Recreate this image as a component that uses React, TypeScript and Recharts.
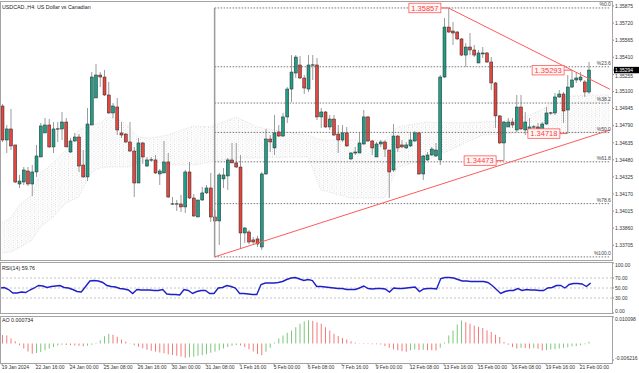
import {
  ComposedChart,
  Bar,
  Line,
  Area,
  XAxis,
  YAxis,
  ReferenceLine,
  ReferenceDot,
  Cell,
} from 'recharts'

const FONT = '"Liberation Sans", Arial, sans-serif'
const BULL = '#1f9d87'
const BEAR = '#e2463f'
const TAG = '#ff5a5a'

// USDCAD H4 bars, 19 Jan 08:00 .. 21 Feb 08:00
const opens = [
  1.34968, 1.3466, 1.3476, 1.34615, 1.34261, 1.34279, 1.34379, 1.34261, 1.3437, 1.34506,
  1.34724, 1.34796, 1.34597, 1.3476, 1.3476, 1.34823, 1.34551, 1.34651, 1.34687, 1.34433,
  1.34325, 1.34796, 1.35041, 1.35249, 1.35231, 1.35068, 1.34905, 1.34959, 1.34724, 1.34714,
  1.34642, 1.3456, 1.3427, 1.34633, 1.34424, 1.34479, 1.34479, 1.34352, 1.34361, 1.34461,
  1.3408, 1.3408, 1.3408, 1.34053, 1.3437, 1.34134, 1.33962, 1.34116, 1.3418, 1.34225,
  1.33962, 1.33926, 1.34307, 1.34334, 1.34479, 1.34452, 1.34415, 1.33817, 1.33826, 1.33754,
  1.33763, 1.3369, 1.34352, 1.34669, 1.34588, 1.34733, 1.34696, 1.34869, 1.35122, 1.35267,
  1.3534, 1.35222, 1.35122, 1.3534, 1.3534, 1.34869, 1.34914, 1.34778, 1.3485, 1.34714,
  1.3466, 1.34724, 1.34488, 1.34542, 1.34542, 1.34624, 1.34869, 1.34651, 1.34506, 1.34624,
  1.34642, 1.34569, 1.34388, 1.34696, 1.34615, 1.34588, 1.34606, 1.34651, 1.34724, 1.34352,
  1.34479, 1.34524, 1.34515, 1.34479, 1.35231, 1.35684, 1.35648, 1.35639, 1.35576, 1.3543,
  1.35503, 1.35476, 1.35358, 1.3544, 1.35449, 1.35367, 1.35177, 1.34878, 1.34633, 1.34778,
  1.34823, 1.34751, 1.34959, 1.34751, 1.34724, 1.34778, 1.34778, 1.34733, 1.34805, 1.34905,
  1.34905, 1.3505, 1.35077, 1.34932, 1.3514, 1.35204, 1.35204, 1.35186, 1.35095,
]
const highs = [
  1.34986, 1.34796, 1.34941, 1.34615, 1.34343, 1.34415, 1.34415, 1.34433, 1.34615, 1.34814,
  1.34859, 1.3485, 1.34823, 1.34823, 1.34914, 1.34859, 1.34678, 1.34724, 1.34714, 1.34569,
  1.3495, 1.35276, 1.35349, 1.35276, 1.35295, 1.35186, 1.34995, 1.35041, 1.34823, 1.34724,
  1.34823, 1.34597, 1.34678, 1.34642, 1.34506, 1.34506, 1.34524, 1.34397, 1.34651, 1.34542,
  1.34143, 1.34116, 1.34162, 1.34388, 1.34461, 1.34171, 1.34116, 1.34234, 1.34252, 1.34361,
  1.34026, 1.34361, 1.34406, 1.34497, 1.34633, 1.34633, 1.34524, 1.33871, 1.33844, 1.33781,
  1.3379, 1.3437, 1.3476, 1.34705, 1.34887, 1.34796, 1.34905, 1.3514, 1.3543, 1.3543,
  1.35421, 1.35249, 1.3543, 1.3543, 1.35403, 1.3495, 1.34923, 1.34887, 1.34887, 1.34796,
  1.34796, 1.34778, 1.34551, 1.34597, 1.34724, 1.34932, 1.34878, 1.3466, 1.34642, 1.3466,
  1.3466, 1.34569, 1.34805, 1.34705, 1.3466, 1.34642, 1.34724, 1.34742, 1.34733, 1.34524,
  1.34551, 1.34597, 1.34633, 1.35249, 1.35766, 1.35857, 1.3573, 1.35648, 1.35585, 1.35539,
  1.3563, 1.35521, 1.35476, 1.35503, 1.35458, 1.35412, 1.35186, 1.34887, 1.34832, 1.34859,
  1.34859, 1.35068, 1.35068, 1.34914, 1.34859, 1.34796, 1.34814, 1.34823, 1.34959, 1.34914,
  1.35086, 1.35113, 1.35095, 1.35249, 1.35293, 1.35276, 1.35276, 1.35204, 1.35367,
]
const lows = [
  1.34642, 1.34542, 1.34569, 1.3427, 1.34225, 1.34252, 1.34243, 1.34152, 1.34325, 1.34506,
  1.34724, 1.34588, 1.34542, 1.34642, 1.3466, 1.34597, 1.34542, 1.34642, 1.3437, 1.34316,
  1.34288, 1.34796, 1.35041, 1.3514, 1.35059, 1.34896, 1.34859, 1.34705, 1.34678, 1.34633,
  1.34551, 1.34143, 1.3427, 1.34443, 1.34415, 1.34461, 1.34352, 1.34252, 1.34361, 1.34134,
  1.34071, 1.34016, 1.34007, 1.33998, 1.34125, 1.33962, 1.33962, 1.34107, 1.34171, 1.33917,
  1.33917, 1.33708, 1.34225, 1.34207, 1.34452, 1.34406, 1.33672, 1.33726, 1.33717, 1.33717,
  1.3369, 1.33663, 1.34343, 1.34551, 1.34524, 1.34687, 1.34687, 1.34814, 1.35004, 1.35222,
  1.35213, 1.35077, 1.35095, 1.35204, 1.34841, 1.34769, 1.34769, 1.34751, 1.34696, 1.34542,
  1.34642, 1.34597, 1.34479, 1.34524, 1.34542, 1.34615, 1.34642, 1.34524, 1.34506, 1.34597,
  1.34506, 1.34134, 1.3437, 1.34551, 1.34588, 1.34578, 1.34597, 1.34642, 1.34343, 1.34297,
  1.3447, 1.34515, 1.34506, 1.34433, 1.35222, 1.3563, 1.35521, 1.35566, 1.35421, 1.35322,
  1.3543, 1.35412, 1.35358, 1.35403, 1.35358, 1.35113, 1.34769, 1.34624, 1.34473, 1.34778,
  1.34769, 1.34733, 1.34751, 1.34705, 1.34687, 1.34742, 1.34733, 1.34725, 1.34796, 1.34887,
  1.34887, 1.35041, 1.34814, 1.34718, 1.35131, 1.35177, 1.35186, 1.3505, 1.35077,
]
const closes = [
  1.3466, 1.3476, 1.34606, 1.34279, 1.34288, 1.34388, 1.34261, 1.3437, 1.34515, 1.34787,
  1.34796, 1.34597, 1.3476, 1.3476, 1.34823, 1.34597, 1.34651, 1.34687, 1.34424, 1.34325,
  1.34805, 1.35231, 1.35249, 1.35231, 1.35068, 1.34905, 1.34968, 1.34751, 1.34705, 1.34642,
  1.3456, 1.3427, 1.34633, 1.34506, 1.34479, 1.34479, 1.34361, 1.34379, 1.34461, 1.34143,
  1.3408, 1.3408, 1.34053, 1.3437, 1.34134, 1.33971, 1.34116, 1.3418, 1.34225, 1.33962,
  1.33926, 1.34343, 1.34343, 1.34479, 1.34452, 1.34415, 1.33817, 1.33862, 1.33735, 1.33735,
  1.33717, 1.34352, 1.34669, 1.34642, 1.34724, 1.34696, 1.34869, 1.35122, 1.35276, 1.35412,
  1.35222, 1.35131, 1.3534, 1.3534, 1.34869, 1.34914, 1.34778, 1.3485, 1.34705, 1.3466,
  1.34724, 1.34606, 1.34542, 1.34551, 1.34633, 1.34869, 1.34651, 1.34588, 1.34624, 1.34642,
  1.34578, 1.3437, 1.34696, 1.34588, 1.34597, 1.34615, 1.3466, 1.34724, 1.34352, 1.34515,
  1.34524, 1.34578, 1.34569, 1.35231, 1.35684, 1.35639, 1.3563, 1.35576, 1.3543, 1.35503,
  1.35476, 1.3543, 1.35449, 1.35449, 1.35367, 1.35177, 1.34878, 1.34633, 1.34823, 1.34823,
  1.34796, 1.34959, 1.3476, 1.34823, 1.34778, 1.34778, 1.3476, 1.34805, 1.34905, 1.34905,
  1.3505, 1.35077, 1.34923, 1.3514, 1.35204, 1.35222, 1.35231, 1.35095, 1.35294,
]

const rsi14 = [
  50, 51, 47, 40, 40, 42, 41, 46, 50, 55,
  54, 51, 53, 54, 55, 51, 50, 47, 43, 42,
  53, 64, 65, 64, 61, 55, 53, 52, 49, 48,
  46, 39, 47, 46, 46, 46, 45, 45, 47, 38,
  37, 37, 36, 47, 45, 39, 43, 45, 45, 39,
  39, 50, 51, 55, 53, 50, 39, 39, 38, 37,
  37, 57, 60, 60, 60, 61, 63, 67, 70, 71,
  68, 65, 67, 65, 53, 53, 52, 51, 50, 49,
  49, 47, 47, 47, 50, 54, 49, 48, 49, 49,
  48, 42, 50, 49, 49, 50, 51, 52, 43, 48,
  49, 49, 48, 69, 71, 71, 70, 67, 64, 64,
  63, 63, 63, 63, 61, 55, 47, 39, 43, 45,
  45, 49, 45, 47, 46, 46, 45, 45, 50, 51,
  55, 55, 50, 57, 59, 59, 58, 53, 59.76,
]

const aoValues = [
  0.0033, 0.0031, 0.0019, 0.0009, -0.0006, -0.0019, -0.003, -0.0038, -0.0036, -0.0032,
  -0.0025, -0.0019, -0.0013, -0.0007, -0.0004, -0.0005, -0.0006, -0.0007, -0.0008, -0.001,
  -0.0008, -0.0004, 0.0003, 0.0013, 0.0028, 0.0037, 0.0034, 0.0026, 0.0016, 0.0008,
  0.0001, -0.0006, -0.0012, -0.0018, -0.0023, -0.0027, -0.003, -0.0034, -0.0037, -0.004,
  -0.0043, -0.0046, -0.0049, -0.0054, -0.0052, -0.005, -0.0046, -0.0044, -0.004, -0.0035,
  -0.003, -0.0025, -0.0019, -0.0013, -0.0008, -0.0005, -0.0007, -0.0013, -0.0021, -0.003,
  -0.0039, -0.0044, -0.0031, -0.0016, 0.0004, 0.0019, 0.0031, 0.0041, 0.005, 0.00625,
  0.0075, 0.0084, 0.0089, 0.0087, 0.0081, 0.0075, 0.00625, 0.005, 0.00375, 0.0029,
  0.0021, 0.0016, 0.0009, 0.0004, 0.0001, -0.0001, -0.00015, -0.0002, -0.00025, -0.0003,
  -0.0009, -0.0016, -0.0021, -0.0025, -0.0029, -0.0031, -0.0025, -0.00225, -0.0024, -0.0023,
  -0.0025, -0.00255, -0.0026, -0.0016, 0.0004, 0.0031, 0.005, 0.00725, 0.00875, 0.0081,
  0.0075, 0.0069, 0.0064, 0.0059, 0.0051, 0.0044, 0.0034, 0.0025, 0.0006, -0.0004,
  -0.00125, -0.0019, -0.0016, -0.0017, -0.0019, -0.0018, -0.00195, -0.0026, -0.0024, -0.00225,
  -0.0021, -0.0019, -0.0016, -0.0014, -0.001, -0.0009, -0.0006, -0.00025, 0.000734,
]

// ichimoku cloud edges, read at a few bars (shifted cloud runs into the empty right margin)
const cloudBars = [0, 2, 4, 7, 9, 12, 15, 18, 21, 23, 25, 28, 30, 32, 35, 39, 45, 49, 55, 60, 68, 72, 75, 82, 90, 93, 100, 107, 113, 121, 127, 131, 138, 143]
const cloudTop = [
  1.33908, 1.33953, 1.34071, 1.34162, 1.34361, 1.34452, 1.34569, 1.34751, 1.34796, 1.34814,
  1.34869, 1.34841, 1.34769, 1.34687, 1.34678, 1.34705, 1.34787, 1.34778, 1.34869, 1.34778,
  1.34724, 1.34705, 1.3466, 1.3466, 1.3466, 1.34778, 1.34823, 1.34814, 1.34823, 1.34841,
  1.34932, 1.3505, 1.35068, 1.35068,
]
const cloudBottom = [
  1.33636, 1.33645, 1.33681, 1.33754, 1.33871, 1.33962, 1.34089, 1.34143, 1.3437, 1.34406,
  1.34415, 1.34415, 1.34415, 1.34461, 1.34479, 1.34433, 1.34433, 1.34461, 1.34497, 1.34497,
  1.34506, 1.34506, 1.34207, 1.34134, 1.34134, 1.34415, 1.34479, 1.34597, 1.34705, 1.34724,
  1.34724, 1.34724, 1.34724, 1.34724,
]

const fibLevels = [1.35857, 1.35324, 1.34995, 1.34729, 1.34462, 1.34083, 1.336]
const fibNames = ['%0.0', '%23.6', '%38.2', '%50.0', '%61.8', '%78.6', '%100.0']
const fibBar = 50

const trendLines = [
  { x1: 50, y1: 1.336, x2: 143, y2: 1.3475 },
  { x1: 105, y1: 1.35857, x2: 143, y2: 1.3512 },
]

const priceTags = [
  { bar: 105, price: 1.35857 },
  { bar: 134, price: 1.35293 },
  { bar: 118, price: 1.34473 },
  { bar: 133, price: 1.34718 },
]

const priceTicks = [
  1.33705, 1.3386, 1.34015, 1.3417, 1.34325, 1.3448, 1.34635, 1.3479,
  1.34945, 1.351, 1.35255, 1.3541, 1.35565, 1.3572, 1.35875,
]
const rsiTicks = [0, 30, 50, 70, 100]
const aoTicks = [-0.006216, 0.010098]
const dateTicks = [0, 8, 16, 24, 32, 40, 48, 56, 64, 72, 80, 88, 96, 104, 112, 120, 128, 136]
const dateLabels = [
  '19 Jan 2024', '22 Jan 16:00', '24 Jan 00:00', '25 Jan 08:00', '26 Jan 16:00', '30 Jan 00:00',
  '31 Jan 08:00', '1 Feb 16:00', '5 Feb 00:00', '6 Feb 08:00', '7 Feb 16:00', '9 Feb 00:00',
  '12 Feb 08:00', '13 Feb 16:00', '15 Feb 00:00', '16 Feb 08:00', '19 Feb 16:00', '21 Feb 00:00',
]

const SLOTS = 144 // bars + chart shift on the right
const lastPrice = closes[closes.length - 1]

const rows = Array.from({ length: SLOTS }, (_, i) => {
  const k = cloudBars.indexOf(i)
  return {
    i,
    o: opens[i] ?? null,
    h: highs[i] ?? null,
    l: lows[i] ?? null,
    c: closes[i] ?? null,
    rsi: rsi14[i] ?? null,
    ao: aoValues[i] ?? null,
    cloud: k >= 0 ? [cloudBottom[k], cloudTop[k]] : null,
  }
})

function Candle(props: any) {
  const { x, y, width, height, payload } = props
  if (!payload || payload.o == null) return null
  const { o, h, l, c } = payload
  const top = height >= 0 ? y : y + height
  const span = Math.abs(height)
  const k = h > l ? span / (h - l) : 0
  const cx = x + width / 2
  const yO = top + (h - o) * k
  const yC = top + (h - c) * k
  return (
    <g>
      <line x1={cx} x2={cx} y1={top} y2={top + span} stroke="#9b9b9b" strokeWidth={1} />
      {o === c ? (
        <line x1={x - 0.3} x2={x + width + 0.3} y1={yO} y2={yO} stroke="#222" strokeWidth={1} />
      ) : (
        <rect
          x={x}
          y={Math.min(yO, yC)}
          width={width}
          height={Math.max(Math.abs(yO - yC), 0.8)}
          fill={c > o ? BULL : BEAR}
          stroke="#2a2a2a"
          strokeWidth={0.5}
        />
      )}
    </g>
  )
}

function PriceTag(props: any) {
  const { cx, cy, text } = props
  const w = 32
  const ht = 9.5
  const right = cx - 7.5
  return (
    <g>
      <line x1={right} x2={cx} y1={cy} y2={cy} stroke={TAG} strokeWidth={1} />
      <rect x={right - w} y={cy - ht / 2} width={w} height={ht} fill="#fff6f6" stroke={TAG} strokeWidth={0.8} />
      <text x={right - w / 2} y={cy + 2.7} textAnchor="middle" fontSize={7.5} fill="#ff3a3a" fontFamily={FONT}>
        {text}
      </text>
    </g>
  )
}

function FibName(props: any) {
  const { cx, cy, text } = props
  return (
    <text x={cx + 1} y={cy - 1.6} textAnchor="end" fontSize={5} fill="#444" fontFamily={FONT}>
      {text}
    </text>
  )
}

function PriceAxisTick(props: any) {
  const { x, y, payload } = props
  const v = payload.value
  if (v === lastPrice) {
    return (
      <g>
        <rect x={x - 1} y={y - 3.2} width={25} height={6.4} fill="#000" />
        <text x={x} y={y + 1.8} fontSize={5} fill="#fff" fontFamily={FONT}>{v.toFixed(5)}</text>
      </g>
    )
  }
  // the label right under the last-price box sits a hair lower, as in the terminal
  const nudge = Math.abs(v - lastPrice) < 0.0006 ? 1.6 : 0
  return (
    <text x={x} y={y + 1.8 + nudge} fontSize={5} fill="#333" fontFamily={FONT}>{v.toFixed(5)}</text>
  )
}

// side labels of the sub-windows: edge labels are pulled inside the panel
function SideTick(props: any) {
  const { x, y, payload, ticks, digits } = props
  const v = payload.value
  const shift = v === ticks[ticks.length - 1] ? 1.8 : v === ticks[0] ? -1.8 : 0
  return (
    <text x={x} y={y + 1.8 + shift} fontSize={5} fill="#333" fontFamily={FONT}>{v.toFixed(digits)}</text>
  )
}

function DateTick(props: any) {
  const { x, y, payload } = props
  const label = dateLabels[dateTicks.indexOf(payload.value)]
  return (
    <g>
      <line x1={x} x2={x} y1={y + 3.5} y2={y + 5.5} stroke="#777" strokeWidth={0.8} />
      <text x={x - 0.5} y={y + 9} fontSize={5} fill="#333" fontFamily={FONT}>{label}</text>
    </g>
  )
}

export default function App() {
  return (
    <div style={{ position: 'relative', width: 639, height: 373, background: '#fff', overflow: 'hidden' }}>
      <style>{'body{margin:0;background:#fff}'}</style>

      {/* price panel */}
      <div style={{ position: 'absolute', left: 0, top: 0 }}>
        <ComposedChart width={639} height={262} data={rows} margin={{ top: 3, right: 0, bottom: 3, left: 0 }}>
          <defs>
            <pattern id="cloudDots" width="4.25" height="2.4" patternUnits="userSpaceOnUse">
              <rect width="0.9" height="0.9" fill="#d2d2d2" />
              <rect x="2.1" y="1.2" width="0.9" height="0.9" fill="#dcdcdc" />
            </pattern>
          </defs>
          <XAxis dataKey="i" hide />
          <YAxis
            orientation="right"
            width={27}
            domain={[1.33581, 1.35902]}
            allowDataOverflow
            ticks={[...priceTicks, lastPrice]}
            interval={0}
            axisLine={false}
            tickSize={2}
            tickMargin={1}
            tickLine={{ stroke: '#888' }}
            tick={<PriceAxisTick />}
          />
          <Area
            dataKey="cloud"
            type="linear"
            connectNulls
            stroke="#d6d6d6"
            strokeWidth={0.8}
            strokeDasharray="1 1.5"
            fill="url(#cloudDots)"
            fillOpacity={1}
            dot={false}
            activeDot={false}
            isAnimationActive={false}
          />
          {fibLevels.map((lv, idx) => (
            <ReferenceLine
              key={'fib' + idx}
              segment={[{ x: fibBar, y: lv }, { x: SLOTS - 1, y: lv }]}
              stroke="#555"
              strokeWidth={0.8}
              strokeDasharray="1.5 1.5"
            />
          ))}
          <ReferenceLine
            segment={[{ x: fibBar, y: fibLevels[0] }, { x: fibBar, y: fibLevels[fibLevels.length - 1] }]}
            stroke="#9a9a9a"
            strokeWidth={1.5}
          />
          <Bar
            dataKey={(d: any) => (d.l == null ? null : [d.l, d.h])}
            barSize={3}
            shape={<Candle />}
            isAnimationActive={false}
          />
          {trendLines.map((t, idx) => (
            <ReferenceLine
              key={'tl' + idx}
              segment={[{ x: t.x1, y: t.y1 }, { x: t.x2, y: t.y2 }]}
              stroke={TAG}
              strokeWidth={1}
            />
          ))}
          {fibLevels.map((lv, idx) => (
            <ReferenceDot
              key={'fn' + idx}
              x={SLOTS - 1}
              y={lv}
              r={0}
              shape={(p: any) => <FibName {...p} text={fibNames[idx]} />}
            />
          ))}
          {priceTags.map((t, idx) => (
            <ReferenceDot
              key={'tag' + idx}
              x={t.bar}
              y={t.price}
              r={0}
              shape={(p: any) => <PriceTag {...p} text={t.price.toFixed(5)} />}
            />
          ))}
        </ComposedChart>
      </div>

      {/* RSI panel */}
      <div style={{ position: 'absolute', left: 0, top: 260 }}>
        <ComposedChart width={639} height={56} data={rows} margin={{ top: 3, right: 0, bottom: 3, left: 0 }}>
          <XAxis dataKey="i" hide />
          <YAxis
            orientation="right"
            width={27}
            domain={[0, 100]}
            ticks={rsiTicks}
            interval={0}
            axisLine={false}
            tickSize={2}
            tickMargin={1}
            tickLine={{ stroke: '#888' }}
            tick={<SideTick ticks={rsiTicks} digits={2} />}
          />
          {[30, 50, 70].map((v) => (
            <ReferenceLine key={v} y={v} stroke="#b5b5b5" strokeWidth={0.8} strokeDasharray="2 2" />
          ))}
          <Line
            dataKey="rsi"
            type="linear"
            stroke="#1f1fc8"
            strokeWidth={1.4}
            dot={false}
            activeDot={false}
            isAnimationActive={false}
          />
        </ComposedChart>
      </div>

      {/* Awesome oscillator panel */}
      <div style={{ position: 'absolute', left: 0, top: 313 }}>
        <ComposedChart width={639} height={60} data={rows} margin={{ top: 4, right: 0, bottom: 0, left: 0 }}>
          <XAxis
            dataKey="i"
            height={13}
            ticks={dateTicks}
            interval={0}
            axisLine={false}
            tickLine={false}
            tickSize={0}
            tickMargin={0}
            tick={<DateTick />}
          />
          <YAxis
            orientation="right"
            width={27}
            domain={[aoTicks[0], aoTicks[1]]}
            ticks={aoTicks}
            interval={0}
            axisLine={false}
            tickSize={2}
            tickMargin={1}
            tickLine={{ stroke: '#888' }}
            tick={<SideTick ticks={aoTicks} digits={6} />}
          />
          <Bar dataKey="ao" barSize={1} isAnimationActive={false}>
            {rows.map((r, idx) => (
              <Cell
                key={idx}
                fill={idx > 0 && r.ao != null && r.ao > (aoValues[idx - 1] ?? 0) ? '#7cc87c' : '#f47a7a'}
              />
            ))}
          </Bar>
        </ComposedChart>
      </div>

      {/* panel frames and captions */}
      <svg width={639} height={373} style={{ position: 'absolute', left: 0, top: 0, pointerEvents: 'none' }}>
        <g stroke="#a3a3a3" strokeWidth={1} fill="none">
          <rect x={0.5} y={1.5} width={612} height={259} />
          <rect x={0.5} y={262.5} width={612} height={51} />
          <rect x={0.5} y={316.5} width={612} height={47} />
        </g>
        <text x={2} y={8.5} fontSize={5.3} fill="#222" fontFamily={FONT}>USDCAD.,H4:  US Dollar vs Canadian</text>
        <text x={2} y={269.5} fontSize={5.3} fill="#222" fontFamily={FONT}>
          {`RSI(14) ${rsi14[rsi14.length - 1].toFixed(2)}`}
        </text>
        <text x={2} y={322} fontSize={5.3} fill="#222" fontFamily={FONT}>
          {`AO ${aoValues[aoValues.length - 1].toFixed(6)}`}
        </text>
      </svg>
    </div>
  )
}
